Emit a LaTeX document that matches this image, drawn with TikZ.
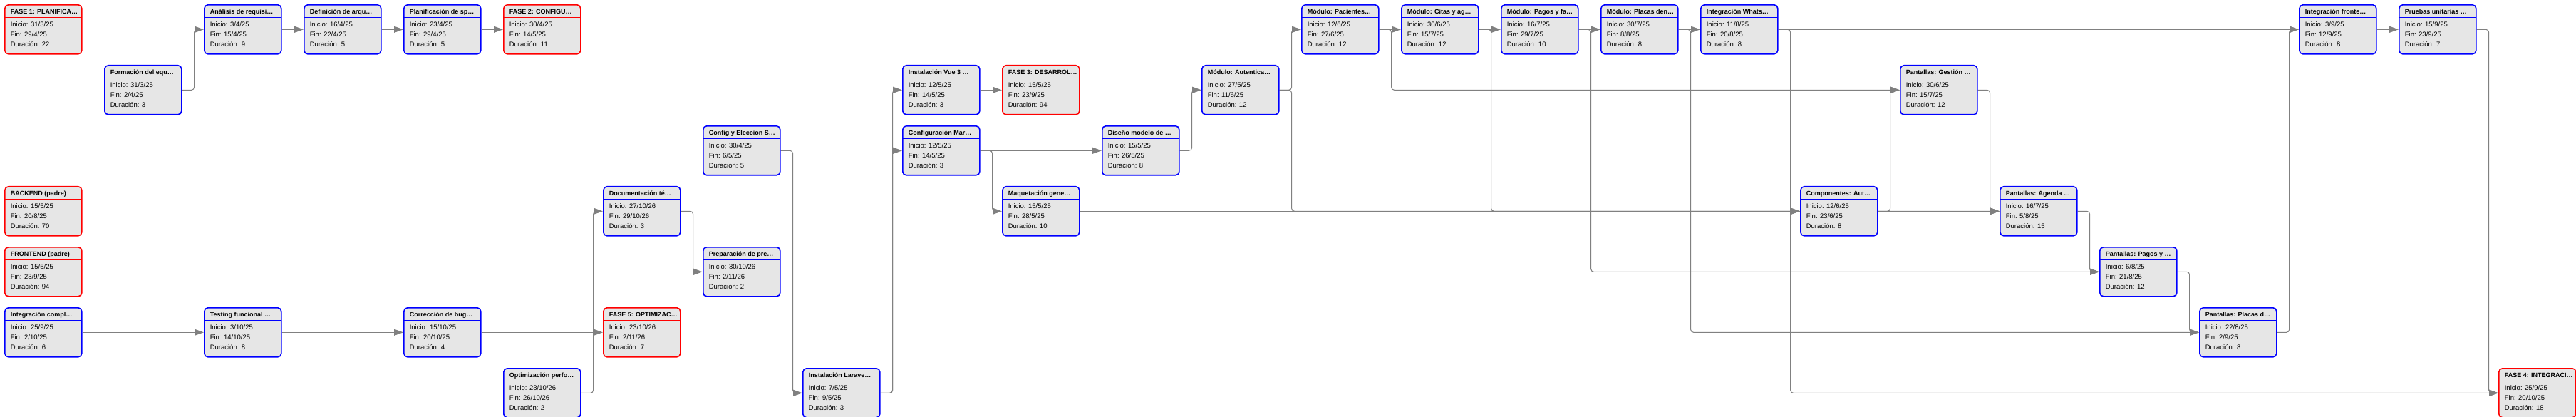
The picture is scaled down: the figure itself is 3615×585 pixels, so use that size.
\documentclass[tikz,border=0pt]{standalone}
\usepackage{fontspec}
\setmainfont{Liberation Sans}
\usetikzlibrary{arrows.meta,backgrounds}

\begin{document}
\begin{tikzpicture}[x=1pt,y=-1pt,
  tarea/.style={draw=blue,line width=1.6pt,fill=grisTarea,rounded corners=5pt,anchor=north west,minimum width=108pt,minimum height=69pt,inner sep=0pt,
    path picture={\draw[blue,line width=1pt] ([yshift=-18pt]path picture bounding box.north west) -- ([yshift=-18pt]path picture bounding box.north east);},
    execute at begin node={\begin{minipage}[t][69pt][t]{92pt}\raggedright\fontsize{9.5}{14}\selectfont\rule{0pt}{13pt}},
    execute at end node={\end{minipage}}},
  fase/.style={tarea,draw=red,
    path picture={\draw[red,line width=1pt] ([yshift=-18pt]path picture bounding box.north west) -- ([yshift=-18pt]path picture bounding box.north east);}},
  enlace/.style={draw=grisLinea,line width=1pt,rounded corners=4pt,->,>={Triangle[length=13pt,width=9pt]}}]
\definecolor{grisTarea}{RGB}{230,230,230}
\definecolor{grisLinea}{RGB}{128,128,128}
\newcommand\titulo[1]{\mbox{\fontsize{9}{14}\selectfont\bfseries #1}}
\useasboundingbox (0,0) rectangle (3615,585);
\node[fase] (fase1) at (6,6) {\titulo{FASE 1: PLANIFICA…}\\[4pt]Inicio: 31/3/25\\Fin: 29/4/25\\Duración: 22};
\node[tarea] (formacion) at (146,91) {\titulo{Formación del equ…}\\[4pt]Inicio: 31/3/25\\Fin: 2/4/25\\Duración: 3};
\node[tarea] (analisis) at (286,6) {\titulo{Análisis de requisi…}\\[4pt]Inicio: 3/4/25\\Fin: 15/4/25\\Duración: 9};
\node[tarea] (definicion) at (426,6) {\titulo{Definición de arqu…}\\[4pt]Inicio: 16/4/25\\Fin: 22/4/25\\Duración: 5};
\node[tarea] (planificacion) at (566,6) {\titulo{Planificación de sp…}\\[4pt]Inicio: 23/4/25\\Fin: 29/4/25\\Duración: 5};
\node[fase] (fase2) at (706,6) {\titulo{FASE 2: CONFIGU…}\\[4pt]Inicio: 30/4/25\\Fin: 14/5/25\\Duración: 11};
\node[fase] (backend) at (6,261) {\titulo{BACKEND (padre)}\\[4pt]Inicio: 15/5/25\\Fin: 20/8/25\\Duración: 70};
\node[fase] (frontend) at (6,346) {\titulo{FRONTEND (padre)}\\[4pt]Inicio: 15/5/25\\Fin: 23/9/25\\Duración: 94};
\node[tarea] (integracion) at (6,431) {\titulo{Integración compl…}\\[4pt]Inicio: 25/9/25\\Fin: 2/10/25\\Duración: 6};
\node[tarea] (testing) at (286,431) {\titulo{Testing funcional …}\\[4pt]Inicio: 3/10/25\\Fin: 14/10/25\\Duración: 8};
\node[tarea] (correccion) at (566,431) {\titulo{Corrección de bug…}\\[4pt]Inicio: 15/10/25\\Fin: 20/10/25\\Duración: 4};
\node[tarea] (optimizacion) at (706,516) {\titulo{Optimización perfo…}\\[4pt]Inicio: 23/10/26\\Fin: 26/10/26\\Duración: 2};
\node[tarea] (documentacion) at (846,261) {\titulo{Documentación té…}\\[4pt]Inicio: 27/10/26\\Fin: 29/10/26\\Duración: 3};
\node[fase] (fase5) at (846,431) {\titulo{FASE 5: OPTIMIZAC…}\\[4pt]Inicio: 23/10/26\\Fin: 2/11/26\\Duración: 7};
\node[tarea] (configeleccion) at (986,176) {\titulo{Config y Eleccion S…}\\[4pt]Inicio: 30/4/25\\Fin: 6/5/25\\Duración: 5};
\node[tarea] (preparacion) at (986,346) {\titulo{Preparación de pre…}\\[4pt]Inicio: 30/10/26\\Fin: 2/11/26\\Duración: 2};
\node[tarea] (laravel) at (1126,516) {\titulo{Instalación Larave…}\\[4pt]Inicio: 7/5/25\\Fin: 9/5/25\\Duración: 3};
\node[tarea] (vue) at (1266,91) {\titulo{Instalación Vue 3 …}\\[4pt]Inicio: 12/5/25\\Fin: 14/5/25\\Duración: 3};
\node[tarea] (configmar) at (1266,176) {\titulo{Configuración Mar…}\\[4pt]Inicio: 12/5/25\\Fin: 14/5/25\\Duración: 3};
\node[fase] (fase3) at (1406,91) {\titulo{FASE 3: DESARROL…}\\[4pt]Inicio: 15/5/25\\Fin: 23/9/25\\Duración: 94};
\node[tarea] (maquetacion) at (1406,261) {\titulo{Maquetación gene…}\\[4pt]Inicio: 15/5/25\\Fin: 28/5/25\\Duración: 10};
\node[tarea] (diseno) at (1546,176) {\titulo{Diseño modelo de …}\\[4pt]Inicio: 15/5/25\\Fin: 26/5/25\\Duración: 8};
\node[tarea] (autenticacion) at (1686,91) {\titulo{Módulo: Autentica…}\\[4pt]Inicio: 27/5/25\\Fin: 11/6/25\\Duración: 12};
\node[tarea] (pacientes) at (1826,6) {\titulo{Módulo: Pacientes…}\\[4pt]Inicio: 12/6/25\\Fin: 27/6/25\\Duración: 12};
\node[tarea] (citas) at (1966,6) {\titulo{Módulo: Citas y ag…}\\[4pt]Inicio: 30/6/25\\Fin: 15/7/25\\Duración: 12};
\node[tarea] (pagos) at (2106,6) {\titulo{Módulo: Pagos y fa…}\\[4pt]Inicio: 16/7/25\\Fin: 29/7/25\\Duración: 10};
\node[tarea] (placas) at (2246,6) {\titulo{Módulo: Placas den…}\\[4pt]Inicio: 30/7/25\\Fin: 8/8/25\\Duración: 8};
\node[tarea] (whatsapp) at (2386,6) {\titulo{Integración Whats…}\\[4pt]Inicio: 11/8/25\\Fin: 20/8/25\\Duración: 8};
\node[tarea] (componentes) at (2526,261) {\titulo{Componentes: Aut…}\\[4pt]Inicio: 12/6/25\\Fin: 23/6/25\\Duración: 8};
\node[tarea] (pgestion) at (2666,91) {\titulo{Pantallas: Gestión …}\\[4pt]Inicio: 30/6/25\\Fin: 15/7/25\\Duración: 12};
\node[tarea] (pagenda) at (2806,261) {\titulo{Pantallas: Agenda …}\\[4pt]Inicio: 16/7/25\\Fin: 5/8/25\\Duración: 15};
\node[tarea] (ppagos) at (2946,346) {\titulo{Pantallas: Pagos y …}\\[4pt]Inicio: 6/8/25\\Fin: 21/8/25\\Duración: 12};
\node[tarea] (pplacas) at (3086,431) {\titulo{Pantallas: Placas d…}\\[4pt]Inicio: 22/8/25\\Fin: 2/9/25\\Duración: 8};
\node[tarea] (intfront) at (3226,6) {\titulo{Integración fronte…}\\[4pt]Inicio: 3/9/25\\Fin: 12/9/25\\Duración: 8};
\node[tarea] (pruebas) at (3366,6) {\titulo{Pruebas unitarias …}\\[4pt]Inicio: 15/9/25\\Fin: 23/9/25\\Duración: 7};
\node[fase] (fase4) at (3506,516) {\titulo{FASE 4: INTEGRACI…}\\[4pt]Inicio: 25/9/25\\Fin: 20/10/25\\Duración: 18};
\begin{scope}[on background layer]
  \draw[enlace] (formacion.east) -- ++(17,0) |- (analisis.west);
  \draw[enlace] (analisis.east) -- (definicion.west);
  \draw[enlace] (definicion.east) -- (planificacion.west);
  \draw[enlace] (planificacion.east) -- (fase2.west);
  \draw[enlace] (integracion.east) -- (testing.west);
  \draw[enlace] (testing.east) -- (correccion.west);
  \draw[enlace] (correccion.east) -- (fase5.west);
  \draw[enlace] (optimizacion.east) -- ++(17,0) |- (documentacion.west);
  \draw[enlace] (documentacion.east) -- ++(17,0) |- (preparacion.west);
  \draw[enlace] (configeleccion.east) -- ++(17,0) |- (laravel.west);
  \draw[enlace] (laravel.east) -- ++(17,0) |- (vue.west);
  \draw[enlace] (laravel.east) -- ++(17,0) |- (configmar.west);
  \draw[enlace] (vue.east) -- (fase3.west);
  \draw[enlace] (configmar.east) -- (diseno.west);
  \draw[enlace] (configmar.east) -- ++(17,0) |- (maquetacion.west);
  \draw[enlace] (diseno.east) -- ++(17,0) |- (autenticacion.west);
  \draw[enlace] (autenticacion.east) -- ++(17,0) |- (pacientes.west);
  \draw[enlace] (autenticacion.east) -- ++(17,0) |- (componentes.west);
  \draw[enlace] (maquetacion.east) -- (componentes.west);
  \draw[enlace] (pacientes.east) -- (citas.west);
  \draw[enlace] (pacientes.east) -- ++(17,0) |- (pgestion.west);
  \draw[enlace] (citas.east) -- (pagos.west);
  \draw[enlace] (citas.east) -- ++(17,0) |- (pagenda.west);
  \draw[enlace] (pagos.east) -- (placas.west);
  \draw[enlace] (pagos.east) -- ++(17,0) |- (ppagos.west);
  \draw[enlace] (placas.east) -- (whatsapp.west);
  \draw[enlace] (placas.east) -- ++(17,0) |- (pplacas.west);
  \draw[enlace] (whatsapp.east) -- (intfront.west);
  \draw[enlace] (whatsapp.east) -- ++(17,0) |- (fase4.west);
  \draw[enlace] (componentes.east) -- ++(17,0) |- (pgestion.west);
  \draw[enlace] (componentes.east) -- (pagenda.west);
  \draw[enlace] (pgestion.east) -- ++(17,0) |- (pagenda.west);
  \draw[enlace] (pagenda.east) -- ++(17,0) |- (ppagos.west);
  \draw[enlace] (ppagos.east) -- ++(17,0) |- (pplacas.west);
  \draw[enlace] (pplacas.east) -- ++(17,0) |- (intfront.west);
  \draw[enlace] (intfront.east) -- (pruebas.west);
  \draw[enlace] (pruebas.east) -- ++(17,0) |- (fase4.west);
\end{scope}
\end{tikzpicture}
\end{document}
